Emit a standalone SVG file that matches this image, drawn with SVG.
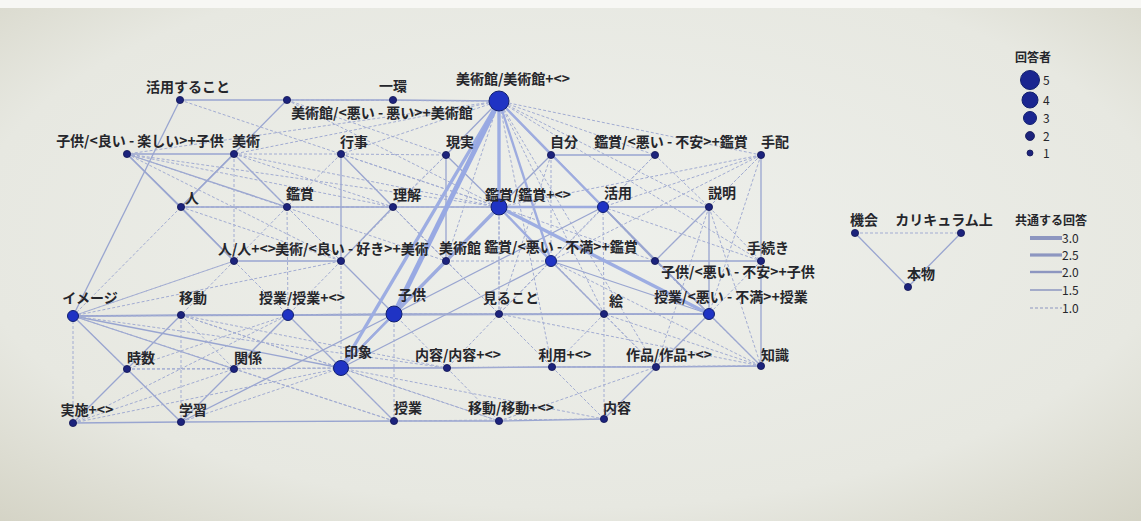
<svg xmlns="http://www.w3.org/2000/svg" width="1141" height="521" viewBox="0 0 1141 521">
<defs>
<radialGradient id="bg" cx="0.5" cy="0.45" r="0.75">
<stop offset="0" stop-color="#eef0ec"/>
<stop offset="0.7" stop-color="#e7e8e1"/>
<stop offset="1" stop-color="#d4d3c5"/>
</radialGradient>
<style>
text{font-family:"Noto Sans CJK JP","Noto Sans",sans-serif;font-size:14px;font-weight:700;fill:#25262b}
.lt{text-anchor:middle}
.e1{stroke:#a2acd2;stroke-width:1;stroke-dasharray:3 2;fill:none}
.e15{stroke:#99a5d0;stroke-width:1.3;fill:none}
.e2{stroke:#9eacdf;stroke-width:2.4;fill:none}
.e25{stroke:#9dade2;stroke-width:3.4;fill:none}
.e3{stroke:#98a9e3;stroke-width:5;fill:none}
.ns{fill:#1c237c;stroke:#111555;stroke-width:0.8}
.nb{fill:#1f33c4;stroke:#12206e;stroke-width:1}
.lg{stroke:#8d96c0;fill:none}
</style>
</defs>
<rect x="0" y="0" width="1141" height="521" fill="url(#bg)"/>
<rect x="0" y="0" width="1141" height="8" fill="#f7f7f4"/>

<g id="edges">
<line class="e15" x1="180" y1="100" x2="287" y2="100"/>
<line class="e15" x1="287" y1="100" x2="393" y2="100"/>
<line class="e15" x1="393" y1="100" x2="499" y2="101"/>
<line class="e15" x1="180" y1="100" x2="73" y2="316"/>
<line class="e15" x1="287" y1="100" x2="181" y2="207"/>
<line class="e15" x1="127" y1="154" x2="234" y2="154"/>
<line class="e15" x1="127" y1="154" x2="181" y2="207"/>
<line class="e15" x1="127" y1="154" x2="234" y2="261"/>
<line class="e15" x1="127" y1="154" x2="287" y2="207"/>
<line class="e15" x1="181" y1="207" x2="287" y2="207"/>
<line class="e15" x1="287" y1="207" x2="393" y2="207"/>
<line class="e15" x1="393" y1="207" x2="499" y2="207"/>
<line class="e15" x1="234" y1="154" x2="287" y2="207"/>
<line class="e15" x1="234" y1="154" x2="181" y2="207"/>
<line class="e15" x1="181" y1="207" x2="234" y2="261"/>
<line class="e15" x1="234" y1="261" x2="341" y2="261"/>
<line class="e15" x1="341" y1="154" x2="393" y2="207"/>
<line class="e15" x1="341" y1="154" x2="341" y2="261"/>
<line class="e15" x1="393" y1="207" x2="341" y2="261"/>
<line class="e15" x1="446" y1="155" x2="446" y2="261"/>
<line class="e15" x1="446" y1="261" x2="394" y2="314"/>
<line class="e15" x1="341" y1="261" x2="394" y2="314"/>
<line class="e15" x1="288" y1="315" x2="394" y2="314"/>
<line class="e15" x1="73" y1="316" x2="181" y2="315"/>
<line class="e15" x1="181" y1="315" x2="288" y2="315"/>
<line class="e15" x1="73" y1="316" x2="127" y2="369"/>
<line class="e15" x1="73" y1="316" x2="234" y2="369"/>
<line class="e15" x1="73" y1="316" x2="341" y2="368"/>
<line class="e15" x1="127" y1="369" x2="181" y2="422"/>
<line class="e15" x1="127" y1="369" x2="73" y2="423"/>
<line class="e15" x1="127" y1="369" x2="181" y2="315"/>
<line class="e15" x1="234" y1="369" x2="181" y2="422"/>
<line class="e15" x1="234" y1="369" x2="288" y2="315"/>
<line class="e15" x1="341" y1="368" x2="394" y2="421"/>
<line class="e15" x1="341" y1="368" x2="288" y2="315"/>
<line class="e15" x1="341" y1="368" x2="447" y2="368"/>
<line class="e15" x1="447" y1="368" x2="552" y2="367"/>
<line class="e15" x1="552" y1="367" x2="656" y2="367"/>
<line class="e15" x1="656" y1="367" x2="761" y2="366"/>
<line class="e15" x1="73" y1="423" x2="181" y2="422"/>
<line class="e15" x1="181" y1="422" x2="394" y2="421"/>
<line class="e15" x1="394" y1="421" x2="499" y2="421"/>
<line class="e15" x1="499" y1="421" x2="604" y2="419"/>
<line class="e15" x1="656" y1="367" x2="604" y2="419"/>
<line class="e15" x1="709" y1="314" x2="656" y2="367"/>
<line class="e15" x1="709" y1="314" x2="761" y2="366"/>
<line class="e15" x1="603" y1="207" x2="709" y2="207"/>
<line class="e15" x1="709" y1="207" x2="655" y2="261"/>
<line class="e15" x1="709" y1="207" x2="709" y2="314"/>
<line class="e15" x1="761" y1="155" x2="761" y2="261"/>
<line class="e15" x1="761" y1="261" x2="761" y2="366"/>
<line class="e15" x1="603" y1="207" x2="655" y2="261"/>
<line class="e15" x1="551" y1="261" x2="655" y2="261"/>
<line class="e15" x1="655" y1="261" x2="761" y2="261"/>
<line class="e15" x1="551" y1="261" x2="709" y2="314"/>
<line class="e15" x1="603" y1="207" x2="709" y2="314"/>
<line class="e15" x1="604" y1="314" x2="709" y2="314"/>
<line class="e15" x1="499" y1="314" x2="604" y2="314"/>
<line class="e15" x1="394" y1="314" x2="499" y2="314"/>
<line class="e15" x1="551" y1="261" x2="604" y2="314"/>
<line class="e15" x1="499" y1="101" x2="709" y2="314"/>
<line class="e15" x1="551" y1="155" x2="499" y2="207"/>
<line class="e15" x1="551" y1="155" x2="655" y2="155"/>
<line class="e15" x1="446" y1="155" x2="499" y2="207"/>
<line class="e15" x1="499" y1="101" x2="446" y2="155"/>
<line class="e15" x1="499" y1="101" x2="551" y2="155"/>
<line class="e15" x1="394" y1="314" x2="603" y2="207"/>
<line class="e15" x1="341" y1="368" x2="551" y2="261"/>
<line class="e15" x1="73" y1="316" x2="709" y2="314"/>
<line class="e15" x1="181" y1="422" x2="394" y2="314"/>
<line class="e1" x1="499" y1="101" x2="761" y2="155"/>
<line class="e1" x1="499" y1="101" x2="655" y2="155"/>
<line class="e1" x1="499" y1="101" x2="341" y2="154"/>
<line class="e1" x1="499" y1="101" x2="234" y2="154"/>
<line class="e1" x1="499" y1="101" x2="127" y2="154"/>
<line class="e1" x1="499" y1="101" x2="287" y2="100"/>
<line class="e1" x1="499" y1="101" x2="446" y2="261"/>
<line class="e1" x1="499" y1="101" x2="499" y2="314"/>
<line class="e1" x1="499" y1="101" x2="604" y2="314"/>
<line class="e1" x1="499" y1="101" x2="709" y2="207"/>
<line class="e1" x1="499" y1="101" x2="655" y2="261"/>
<line class="e1" x1="499" y1="101" x2="761" y2="261"/>
<line class="e1" x1="499" y1="101" x2="656" y2="367"/>
<line class="e1" x1="499" y1="101" x2="552" y2="367"/>
<line class="e1" x1="287" y1="100" x2="446" y2="155"/>
<line class="e1" x1="287" y1="100" x2="499" y2="207"/>
<line class="e1" x1="180" y1="100" x2="499" y2="207"/>
<line class="e1" x1="127" y1="154" x2="393" y2="207"/>
<line class="e1" x1="127" y1="154" x2="499" y2="207"/>
<line class="e1" x1="127" y1="154" x2="341" y2="261"/>
<line class="e1" x1="127" y1="154" x2="446" y2="261"/>
<line class="e1" x1="234" y1="154" x2="393" y2="207"/>
<line class="e1" x1="234" y1="154" x2="234" y2="261"/>
<line class="e1" x1="234" y1="154" x2="341" y2="261"/>
<line class="e1" x1="234" y1="154" x2="341" y2="154"/>
<line class="e1" x1="234" y1="154" x2="499" y2="207"/>
<line class="e1" x1="341" y1="154" x2="446" y2="155"/>
<line class="e1" x1="341" y1="154" x2="287" y2="207"/>
<line class="e1" x1="341" y1="154" x2="446" y2="261"/>
<line class="e1" x1="341" y1="154" x2="499" y2="207"/>
<line class="e1" x1="446" y1="155" x2="393" y2="207"/>
<line class="e1" x1="446" y1="155" x2="341" y2="261"/>
<line class="e1" x1="551" y1="155" x2="603" y2="207"/>
<line class="e1" x1="551" y1="155" x2="551" y2="261"/>
<line class="e1" x1="551" y1="155" x2="499" y2="314"/>
<line class="e1" x1="655" y1="155" x2="603" y2="207"/>
<line class="e1" x1="655" y1="155" x2="551" y2="261"/>
<line class="e1" x1="655" y1="155" x2="709" y2="207"/>
<line class="e1" x1="761" y1="155" x2="603" y2="207"/>
<line class="e1" x1="761" y1="155" x2="709" y2="207"/>
<line class="e1" x1="761" y1="155" x2="551" y2="261"/>
<line class="e1" x1="761" y1="155" x2="499" y2="207"/>
<line class="e1" x1="761" y1="155" x2="709" y2="314"/>
<line class="e1" x1="761" y1="155" x2="655" y2="261"/>
<line class="e1" x1="181" y1="207" x2="393" y2="207"/>
<line class="e1" x1="181" y1="207" x2="499" y2="207"/>
<line class="e1" x1="181" y1="207" x2="341" y2="261"/>
<line class="e1" x1="287" y1="207" x2="234" y2="261"/>
<line class="e1" x1="287" y1="207" x2="341" y2="261"/>
<line class="e1" x1="287" y1="207" x2="288" y2="315"/>
<line class="e1" x1="393" y1="207" x2="446" y2="261"/>
<line class="e1" x1="393" y1="207" x2="499" y2="314"/>
<line class="e1" x1="499" y1="207" x2="446" y2="261"/>
<line class="e1" x1="499" y1="207" x2="499" y2="314"/>
<line class="e1" x1="499" y1="207" x2="655" y2="261"/>
<line class="e1" x1="499" y1="207" x2="604" y2="314"/>
<line class="e1" x1="603" y1="207" x2="499" y2="314"/>
<line class="e1" x1="603" y1="207" x2="604" y2="314"/>
<line class="e1" x1="709" y1="207" x2="761" y2="261"/>
<line class="e1" x1="709" y1="207" x2="656" y2="367"/>
<line class="e1" x1="709" y1="207" x2="761" y2="366"/>
<line class="e1" x1="603" y1="207" x2="761" y2="261"/>
<line class="e1" x1="234" y1="261" x2="288" y2="315"/>
<line class="e1" x1="234" y1="261" x2="73" y2="316"/>
<line class="e1" x1="234" y1="261" x2="181" y2="315"/>
<line class="e1" x1="341" y1="261" x2="288" y2="315"/>
<line class="e1" x1="341" y1="261" x2="341" y2="368"/>
<line class="e1" x1="446" y1="261" x2="499" y2="314"/>
<line class="e1" x1="446" y1="261" x2="551" y2="261"/>
<line class="e1" x1="551" y1="261" x2="499" y2="314"/>
<line class="e1" x1="551" y1="261" x2="761" y2="366"/>
<line class="e1" x1="551" y1="261" x2="656" y2="367"/>
<line class="e1" x1="655" y1="261" x2="709" y2="314"/>
<line class="e1" x1="655" y1="261" x2="761" y2="366"/>
<line class="e1" x1="761" y1="261" x2="709" y2="314"/>
<line class="e1" x1="73" y1="316" x2="288" y2="315"/>
<line class="e1" x1="73" y1="316" x2="394" y2="314"/>
<line class="e1" x1="73" y1="316" x2="181" y2="207"/>
<line class="e1" x1="73" y1="316" x2="341" y2="261"/>
<line class="e1" x1="73" y1="316" x2="234" y2="261"/>
<line class="e1" x1="73" y1="316" x2="181" y2="422"/>
<line class="e1" x1="73" y1="316" x2="447" y2="368"/>
<line class="e1" x1="73" y1="316" x2="73" y2="423"/>
<line class="e1" x1="73" y1="316" x2="394" y2="421"/>
<line class="e1" x1="181" y1="315" x2="234" y2="369"/>
<line class="e1" x1="181" y1="315" x2="447" y2="368"/>
<line class="e1" x1="181" y1="315" x2="341" y2="368"/>
<line class="e1" x1="181" y1="315" x2="181" y2="422"/>
<line class="e1" x1="181" y1="315" x2="499" y2="421"/>
<line class="e1" x1="288" y1="315" x2="127" y2="369"/>
<line class="e1" x1="288" y1="315" x2="394" y2="421"/>
<line class="e1" x1="288" y1="315" x2="604" y2="314"/>
<line class="e1" x1="394" y1="314" x2="447" y2="368"/>
<line class="e1" x1="394" y1="314" x2="394" y2="421"/>
<line class="e1" x1="394" y1="314" x2="604" y2="314"/>
<line class="e1" x1="394" y1="314" x2="709" y2="314"/>
<line class="e1" x1="499" y1="314" x2="447" y2="368"/>
<line class="e1" x1="499" y1="314" x2="552" y2="367"/>
<line class="e1" x1="604" y1="314" x2="552" y2="367"/>
<line class="e1" x1="604" y1="314" x2="656" y2="367"/>
<line class="e1" x1="604" y1="314" x2="604" y2="419"/>
<line class="e1" x1="341" y1="368" x2="552" y2="367"/>
<line class="e1" x1="341" y1="368" x2="499" y2="421"/>
<line class="e1" x1="341" y1="368" x2="181" y2="422"/>
<line class="e1" x1="341" y1="368" x2="234" y2="369"/>
<line class="e1" x1="341" y1="368" x2="604" y2="419"/>
<line class="e1" x1="447" y1="368" x2="499" y2="421"/>
<line class="e1" x1="552" y1="367" x2="604" y2="419"/>
<line class="e1" x1="552" y1="367" x2="761" y2="366"/>
<line class="e1" x1="394" y1="421" x2="604" y2="419"/>
<line class="e1" x1="499" y1="421" x2="656" y2="367"/>
<line class="e1" x1="73" y1="423" x2="234" y2="369"/>
<line class="e1" x1="73" y1="423" x2="341" y2="368"/>
<line class="e1" x1="73" y1="423" x2="288" y2="315"/>
<line class="e1" x1="234" y1="369" x2="394" y2="421"/>
<line class="e1" x1="127" y1="369" x2="234" y2="369"/>
<line class="e1" x1="127" y1="369" x2="341" y2="368"/>
<line class="e1" x1="761" y1="366" x2="604" y2="314"/>
<line class="e1" x1="761" y1="366" x2="499" y2="314"/>
<line class="e1" x1="761" y1="366" x2="341" y2="368"/>
<line class="e2" x1="499" y1="101" x2="603" y2="207"/>
<line class="e2" x1="499" y1="207" x2="603" y2="207"/>
<line class="e2" x1="394" y1="314" x2="341" y2="368"/>
<line class="e2" x1="499" y1="101" x2="551" y2="261"/>
<line class="e2" x1="499" y1="207" x2="551" y2="261"/>
<line class="e25" x1="499" y1="101" x2="341" y2="368"/>
<line class="e25" x1="499" y1="101" x2="499" y2="207"/>
<line class="e25" x1="499" y1="207" x2="394" y2="314"/>
<line class="e25" x1="499" y1="207" x2="709" y2="314"/>
<line class="e2" x1="499" y1="207" x2="341" y2="368"/>
<line class="e3" x1="499" y1="101" x2="394" y2="314"/>
<line class="e1" x1="855" y1="233" x2="961" y2="233"/>
<line class="e15" x1="855" y1="233" x2="908" y2="287"/>
<line class="e15" x1="961" y1="233" x2="908" y2="287"/>
</g>

<g id="n-katsuyousurukoto"><circle class="ns" cx="180" cy="100" r="3.6"/><text class="lt" x="188" y="92">活用すること</text></g>
<g id="n-bijutsukan-warui"><circle class="ns" cx="287" cy="100" r="3.6"/><text class="lt" x="382" y="118">美術館/&lt;悪い - 悪い&gt;+美術館</text></g>
<g id="n-ikkan"><circle class="ns" cx="393" cy="100" r="3.6"/><text class="lt" x="393" y="91">一環</text></g>
<g id="n-bijutsukan-main"><circle class="nb" cx="499" cy="101" r="10"/><text class="lt" x="513" y="84">美術館/美術館+&lt;&gt;</text></g>
<g id="n-kodomo-yoi"><circle class="ns" cx="127" cy="154" r="3.6"/><text class="lt" x="140" y="146">子供/&lt;良い - 楽しい&gt;+子供</text></g>
<g id="n-bijutsu"><circle class="ns" cx="234" cy="154" r="3.6"/><text class="lt" x="246" y="146">美術</text></g>
<g id="n-gyouji"><circle class="ns" cx="341" cy="154" r="3.6"/><text class="lt" x="354" y="147">行事</text></g>
<g id="n-genjitsu"><circle class="ns" cx="446" cy="155" r="3.6"/><text class="lt" x="460" y="147">現実</text></g>
<g id="n-jibun"><circle class="ns" cx="551" cy="155" r="3.6"/><text class="lt" x="564" y="147">自分</text></g>
<g id="n-kanshou-fuan"><circle class="ns" cx="655" cy="155" r="3.6"/><text class="lt" x="671" y="147">鑑賞/&lt;悪い - 不安&gt;+鑑賞</text></g>
<g id="n-tehai"><circle class="ns" cx="761" cy="155" r="3.6"/><text class="lt" x="775" y="147">手配</text></g>
<g id="n-hito"><circle class="ns" cx="181" cy="207" r="3.6"/><text class="lt" x="192" y="203">人</text></g>
<g id="n-kanshou"><circle class="ns" cx="287" cy="207" r="3.6"/><text class="lt" x="300" y="199">鑑賞</text></g>
<g id="n-rikai"><circle class="ns" cx="393" cy="207" r="3.6"/><text class="lt" x="407" y="200">理解</text></g>
<g id="n-kanshou-main"><circle class="nb" cx="499" cy="207" r="8"/><text class="lt" x="528" y="200">鑑賞/鑑賞+&lt;&gt;</text></g>
<g id="n-katsuyou"><circle class="nb" cx="603" cy="207" r="5.5"/><text class="lt" x="618" y="198">活用</text></g>
<g id="n-setsumei"><circle class="ns" cx="709" cy="207" r="3.6"/><text class="lt" x="722" y="198">説明</text></g>
<g id="n-hito2"><circle class="ns" cx="234" cy="261" r="3.6"/><text class="lt" x="247" y="254">人/人+&lt;&gt;</text></g>
<g id="n-bijutsu-suki"><circle class="ns" cx="341" cy="261" r="3.6"/><text class="lt" x="352" y="254">美術/&lt;良い - 好き&gt;+美術</text></g>
<g id="n-bijutsukan"><circle class="ns" cx="446" cy="261" r="3.6"/><text class="lt" x="460" y="253">美術館</text></g>
<g id="n-kanshou-fuman"><circle class="nb" cx="551" cy="261" r="5.5"/><text class="lt" x="561" y="252">鑑賞/&lt;悪い - 不満&gt;+鑑賞</text></g>
<g id="n-kodomo-fuan"><circle class="ns" cx="655" cy="261" r="3.6"/><text class="lt" x="738" y="277">子供/&lt;悪い - 不安&gt;+子供</text></g>
<g id="n-tetsuzuki"><circle class="ns" cx="761" cy="261" r="3.6"/><text class="lt" x="768" y="253">手続き</text></g>
<g id="n-image"><circle class="nb" cx="73" cy="316" r="5.5"/><text class="lt" x="90" y="303">イメージ</text></g>
<g id="n-idou"><circle class="ns" cx="181" cy="315" r="3.6"/><text class="lt" x="193" y="303">移動</text></g>
<g id="n-jugyou2"><circle class="nb" cx="288" cy="315" r="5.5"/><text class="lt" x="302" y="303">授業/授業+&lt;&gt;</text></g>
<g id="n-kodomo"><circle class="nb" cx="394" cy="314" r="8"/><text class="lt" x="412" y="300">子供</text></g>
<g id="n-mirukoto"><circle class="ns" cx="499" cy="314" r="3.6"/><text class="lt" x="511" y="303">見ること</text></g>
<g id="n-e"><circle class="ns" cx="604" cy="314" r="3.6"/><text class="lt" x="616" y="306">絵</text></g>
<g id="n-jugyou-fuman"><circle class="nb" cx="709" cy="314" r="5.5"/><text class="lt" x="731" y="302">授業/&lt;悪い - 不満&gt;+授業</text></g>
<g id="n-jisuu"><circle class="ns" cx="127" cy="369" r="3.6"/><text class="lt" x="141" y="363">時数</text></g>
<g id="n-kankei"><circle class="ns" cx="234" cy="369" r="3.6"/><text class="lt" x="248" y="363">関係</text></g>
<g id="n-inshou"><circle class="nb" cx="341" cy="368" r="7.5"/><text class="lt" x="358" y="357">印象</text></g>
<g id="n-naiyou2"><circle class="ns" cx="447" cy="368" r="3.6"/><text class="lt" x="458" y="360">内容/内容+&lt;&gt;</text></g>
<g id="n-riyou"><circle class="ns" cx="552" cy="367" r="3.6"/><text class="lt" x="565" y="360">利用+&lt;&gt;</text></g>
<g id="n-sakuhin"><circle class="ns" cx="656" cy="367" r="3.6"/><text class="lt" x="669" y="360">作品/作品+&lt;&gt;</text></g>
<g id="n-chishiki"><circle class="ns" cx="761" cy="366" r="3.6"/><text class="lt" x="775" y="360">知識</text></g>
<g id="n-jisshi"><circle class="ns" cx="73" cy="423" r="3.6"/><text class="lt" x="87" y="415">実施+&lt;&gt;</text></g>
<g id="n-gakushuu"><circle class="ns" cx="181" cy="422" r="3.6"/><text class="lt" x="193" y="415">学習</text></g>
<g id="n-jugyou"><circle class="ns" cx="394" cy="421" r="3.6"/><text class="lt" x="408" y="413">授業</text></g>
<g id="n-idou2"><circle class="ns" cx="499" cy="421" r="3.6"/><text class="lt" x="511" y="413">移動/移動+&lt;&gt;</text></g>
<g id="n-naiyou"><circle class="ns" cx="604" cy="419" r="3.6"/><text class="lt" x="617" y="413">内容</text></g>
<g id="n-kikai"><circle class="ns" cx="855" cy="233" r="3.6"/><text class="lt" x="864" y="225">機会</text></g>
<g id="n-curriculum"><circle class="ns" cx="961" cy="233" r="3.6"/><text class="lt" x="944" y="225">カリキュラム上</text></g>
<g id="n-honmono"><circle class="ns" cx="908" cy="287" r="3.6"/><text class="lt" x="921" y="279">本物</text></g>

<g id="legend-respondents">
<text x="1015" y="62" style="font-size:12px">回答者</text>
<circle class="nb" cx="1030" cy="80" r="9.5" style="fill:#1a2590"/>
<circle class="nb" cx="1030" cy="100" r="8" style="fill:#1a2590"/>
<circle class="nb" cx="1030" cy="118" r="6.5" style="fill:#1a2590"/>
<circle class="ns" cx="1030" cy="136" r="4.5"/>
<circle class="ns" cx="1030" cy="153" r="3"/>
<text x="1043" y="85" style="font-size:12px;font-weight:400">5</text>
<text x="1043" y="105" style="font-size:12px;font-weight:400">4</text>
<text x="1043" y="123" style="font-size:12px;font-weight:400">3</text>
<text x="1043" y="141" style="font-size:12px;font-weight:400">2</text>
<text x="1043" y="158" style="font-size:12px;font-weight:400">1</text>
</g>
<g id="legend-edges">
<text x="1015" y="225" style="font-size:12px">共通する回答</text>
<line class="lg" x1="1030" y1="238" x2="1062" y2="238" stroke-width="4"/>
<line class="lg" x1="1030" y1="255" x2="1062" y2="255" stroke-width="3.2"/>
<line class="lg" x1="1030" y1="272" x2="1062" y2="272" stroke-width="2.4"/>
<line class="lg" x1="1030" y1="290" x2="1062" y2="290" stroke-width="1.5"/>
<line class="lg" x1="1030" y1="308" x2="1062" y2="308" stroke-width="1" stroke-dasharray="3 2"/>
<text x="1062" y="243" style="font-size:12px;font-weight:400">3.0</text>
<text x="1062" y="260" style="font-size:12px;font-weight:400">2.5</text>
<text x="1062" y="277" style="font-size:12px;font-weight:400">2.0</text>
<text x="1062" y="295" style="font-size:12px;font-weight:400">1.5</text>
<text x="1062" y="313" style="font-size:12px;font-weight:400">1.0</text>
</g>
</svg>
